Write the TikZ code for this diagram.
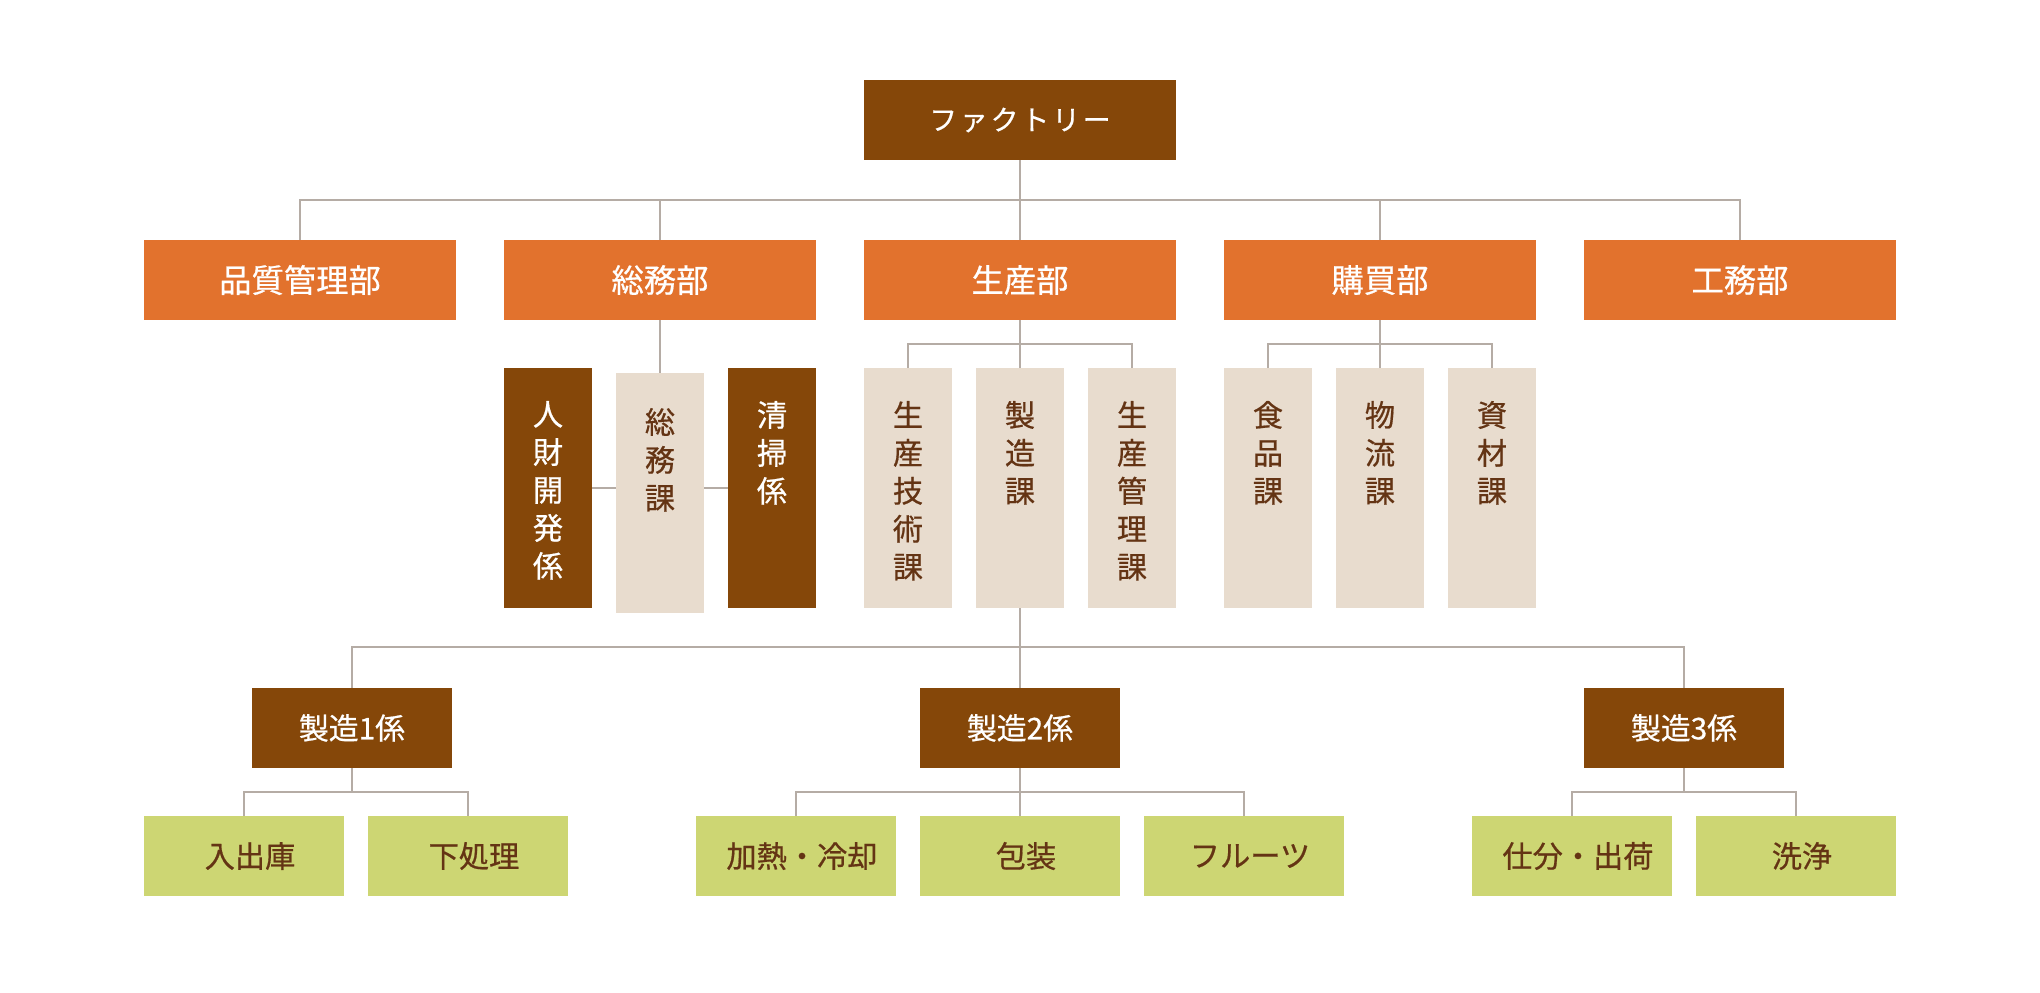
\documentclass[tikz,border=0pt]{standalone}
\usepackage{fontspec}
\setmainfont{Noto Sans CJK JP}[FakeBold=0.6]
\newfontfamily\spacedfont{Noto Sans CJK JP}[LetterSpace=10,FakeBold=0.6]
\usetikzlibrary{positioning}

\definecolor{brownbox}{HTML}{854709}
\definecolor{orangebox}{HTML}{E2722D}
\definecolor{beigebox}{HTML}{E8DCCE}
\definecolor{greenbox}{HTML}{CDD673}
\definecolor{linegray}{HTML}{B5ACA5}
\definecolor{textbrown}{HTML}{643414}

\begin{document}
\begin{tikzpicture}[
    x=0.02cm, y=-0.02cm,
    topbox/.style={fill=brownbox, text=white, minimum width=6.24cm, minimum height=1.6cm, inner sep=0pt, font=\spacedfont\fontsize{15.9}{18}\selectfont},
    dept/.style={fill=orangebox, text=white, minimum width=6.24cm, minimum height=1.6cm, inner sep=0pt, font=\fontsize{18.4}{20}\selectfont},
    sect/.style={minimum width=1.76cm, minimum height=4.8cm, inner sep=0pt},
    vtext/.style={align=center, inner sep=0pt, font=\fontsize{17.2}{21.6}\selectfont},
    team/.style={fill=brownbox, text=white, minimum width=4cm, minimum height=1.6cm, inner sep=0pt, font=\fontsize{17}{20}\selectfont},
    unit/.style={fill=greenbox, text=textbrown, minimum width=4cm, minimum height=1.6cm, inner sep=0pt, font=\fontsize{17.2}{20}\selectfont, execute at begin node={\hspace*{0.24cm}}},
    conn/.style={draw=linegray, line width=1.1pt}
]
\useasboundingbox (0,0) rectangle (2040,992);

% Factory
\node[topbox] (factory) at (1020,120) {ファクトリー};

% Departments
\node[dept] (hinshitsu) at (300,280) {品質管理部};
\node[dept] (somubu) at (660,280) {総務部};
\node[dept] (seisanbu) at (1020,280) {生産部};
\node[dept] (kobaibu) at (1380,280) {購買部};
\node[dept] (koumu) at (1740,280) {工務部};

% Sections
\node[sect, fill=brownbox] (jinzai) at (548,488) {};
\node[sect, fill=beigebox] (somuka) at (660,493) {};
\node[sect, fill=brownbox] (seiso) at (772,488) {};
\node[sect, fill=beigebox] (gijutsu) at (908,488) {};
\node[sect, fill=beigebox] (seizo) at (1020,488) {};
\node[sect, fill=beigebox] (kanri) at (1132,488) {};
\node[sect, fill=beigebox] (shokuhin) at (1268,488) {};
\node[sect, fill=beigebox] (butsuryu) at (1380,488) {};
\node[sect, fill=beigebox] (shizai) at (1492,488) {};

\node[vtext, text=white, below=0.66cm of jinzai.north] (jinzai-t) {人\\財\\開\\発\\係};
\node[vtext, text=textbrown, below=0.7cm of somuka.north] (somuka-t) {総\\務\\課};
\node[vtext, text=white, below=0.66cm of seiso.north] (seiso-t) {清\\掃\\係};
\node[vtext, text=textbrown, below=0.66cm of gijutsu.north] (gijutsu-t) {生\\産\\技\\術\\課};
\node[vtext, text=textbrown, below=0.66cm of seizo.north] (seizo-t) {製\\造\\課};
\node[vtext, text=textbrown, below=0.66cm of kanri.north] (kanri-t) {生\\産\\管\\理\\課};
\node[vtext, text=textbrown, below=0.66cm of shokuhin.north] (shokuhin-t) {食\\品\\課};
\node[vtext, text=textbrown, below=0.66cm of butsuryu.north] (butsuryu-t) {物\\流\\課};
\node[vtext, text=textbrown, below=0.66cm of shizai.north] (shizai-t) {資\\材\\課};

% Teams
\node[team] (team1) at (352,728) {製造1係};
\node[team] (team2) at (1020,728) {製造2係};
\node[team] (team3) at (1684,728) {製造3係};

% Units
\node[unit] (unit11) at (244,856) {入出庫};
\node[unit] (unit12) at (468,856) {下処理};
\node[unit] (unit21) at (796,856) {加熱・冷却};
\node[unit] (unit22) at (1020,856) {包装};
\node[unit] (unit23) at (1244,856) {フルーツ};
\node[unit] (unit31) at (1572,856) {仕分・出荷};
\node[unit] (unit32) at (1796,856) {洗浄};

% Connections
\coordinate (bus1) at (1020,200);
\coordinate (bus2) at (1020,344);
\coordinate (bus3) at (1380,344);
\coordinate (bus4) at (1020,647);
\coordinate (bus5) at (352,792);
\coordinate (bus6) at (1020,792);
\coordinate (bus7) at (1684,792);

\draw[conn] (factory) -- (seisanbu);
\draw[conn] (hinshitsu) |- (bus1) -| (koumu);
\foreach \d in {somubu,kobaibu}
    \draw[conn] (\d |- bus1) -- (\d);

\draw[conn] (somubu) -- (somuka);
\draw[conn] (jinzai.east) -- (jinzai.east -| somuka.west);
\draw[conn] (somuka.east |- seiso.west) -- (seiso.west);

\draw[conn] (seisanbu) -- (seizo);
\draw[conn] (gijutsu) |- (bus2) -| (kanri);
\draw[conn] (kobaibu) -- (butsuryu);
\draw[conn] (shokuhin) |- (bus3) -| (shizai);

\draw[conn] (seizo) -- (team2);
\draw[conn] (team1) |- (bus4) -| (team3);

\draw[conn] (team1) -- (bus5);
\draw[conn] (unit11) |- (bus5) -| (unit12);
\draw[conn] (team2) -- (unit22);
\draw[conn] (unit21) |- (bus6) -| (unit23);
\draw[conn] (team3) -- (bus7);
\draw[conn] (unit31) |- (bus7) -| (unit32);

\end{tikzpicture}
\end{document}
